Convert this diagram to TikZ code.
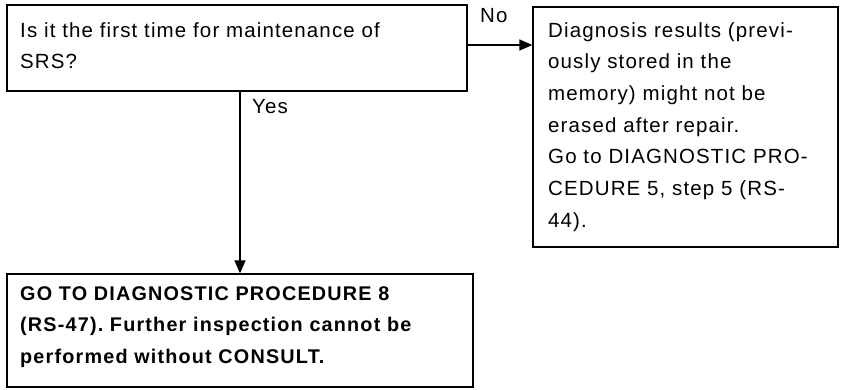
\documentclass[tikz,border=0pt]{standalone}
\usepackage{fontspec}
\setmainfont{Liberation Sans}[LetterSpace=5.5]
\newfontfamily\boldsp{Liberation Sans}[LetterSpace=6]
\usetikzlibrary{arrows.meta}
\frenchspacing
\begin{document}
\begin{tikzpicture}[x=1pt,y=-1pt,
  box/.style={draw,line width=1.3pt,rectangle,inner sep=0pt},
  txt/.style={inner sep=0pt,align=left,anchor=base west,font=\fontsize{20.5}{31.7}\selectfont},
  lbl/.style={inner sep=0pt,anchor=base west,font=\fontsize{20.5}{22}\selectfont},
  arr/.style={line width=1.3pt,-{Triangle[length=13pt,width=11pt]}}]
\useasboundingbox (0,0) rectangle (847,389);
\node[box,minimum width=460pt,minimum height=86pt] (qa) at (237,48) {};
\node[box,minimum width=305pt,minimum height=240pt] (qb) at (685.5,127) {};
\node[box,minimum width=466pt,minimum height=113pt] (qc) at (240,330.5) {};
\node[txt] (ta) at (20,68.7) {Is it the first time for maintenance of\\SRS?};
\node[txt] (tb) at (548,227.2) {Diagnosis results (previ-\\ously stored in the\\memory) might not be\\erased after repair.\\Go to DIAGNOSTIC PRO-\\CEDURE 5, step 5 (RS-\\44).};
\node[txt,font=\boldsp\fontsize{19.8}{31.7}\selectfont\bfseries] (tc) at (20,363.4) {GO TO DIAGNOSTIC PROCEDURE 8\\(RS-47). Further inspection cannot be\\performed without CONSULT.};
\coordinate (ea) at ([yshift=3pt]qa.east);
\draw[arr] (ea) -- (ea -| qb.west);
\draw[arr] (qa.south -| qc.north) -- (qc.north);
\node[lbl] (no) at (480,22) {No};
\node[lbl] (yes) at (252,113) {Yes};
\end{tikzpicture}
\end{document}
